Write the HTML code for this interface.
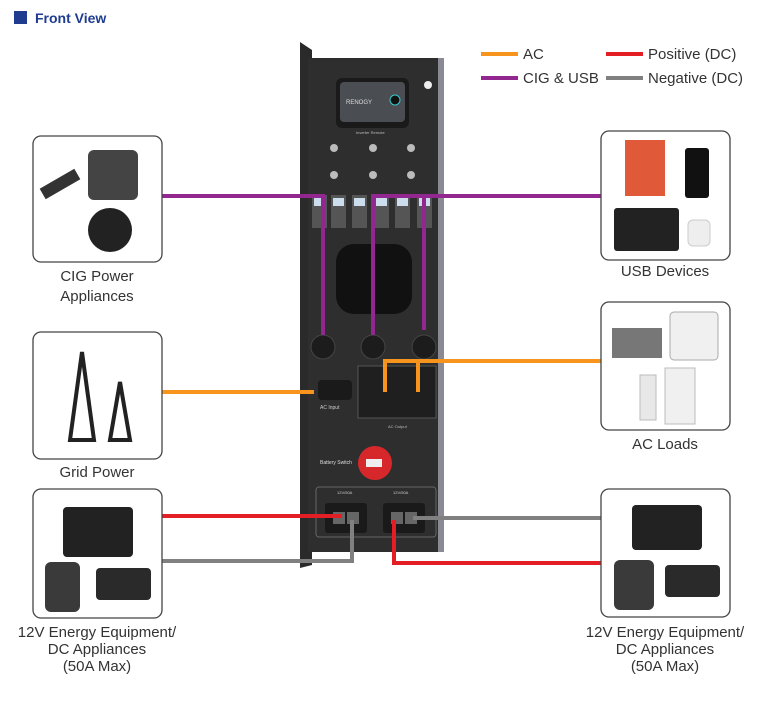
<!DOCTYPE html>
<html><head><meta charset="utf-8"><style>
body{margin:0;background:#fff;width:772px;height:702px;overflow:hidden;font-family:"Liberation Sans",sans-serif}
</style></head><body>
<svg width="772" height="702" viewBox="0 0 772 702" xmlns="http://www.w3.org/2000/svg" font-family="Liberation Sans, sans-serif">
<rect x="14" y="11" width="13" height="13" fill="#1f3c8f"/>
<text x="35" y="23" font-size="14" font-weight="bold" fill="#1f3c8f">Front View</text>

<g font-size="15" fill="#333">
<line x1="481" y1="54" x2="518" y2="54" stroke="#f7941d" stroke-width="4"/><text x="523" y="59">AC</text>
<line x1="606" y1="54" x2="643" y2="54" stroke="#e31e24" stroke-width="4"/><text x="648" y="59">Positive (DC)</text>
<line x1="481" y1="78" x2="518" y2="78" stroke="#92278f" stroke-width="4"/><text x="523" y="83">CIG &amp; USB</text>
<line x1="606" y1="78" x2="643" y2="78" stroke="#808080" stroke-width="4"/><text x="648" y="83">Negative (DC)</text>
</g>

<polygon points="300,42 312,50 312,565 300,568" fill="#2a2a2a"/>
<rect x="308" y="58" width="135" height="494" rx="3" fill="#2e2e2e"/>
<rect x="438" y="58" width="6" height="494" fill="#8a8a95"/>
<rect x="336" y="78" width="73" height="50" rx="6" fill="#1a1a1a"/>
<rect x="340" y="82" width="65" height="40" rx="4" fill="#4a4d52"/>
<text x="346" y="104" font-size="6" fill="#ddd">RENOGY</text>
<circle cx="395" cy="100" r="5" fill="#111" stroke="#3cc" stroke-width="1"/>
<circle cx="428" cy="85" r="4" fill="#eee"/>
<text x="356" y="134" font-size="4" fill="#bbb">Inverter Remote</text>
<g fill="#bbb"><circle cx="334" cy="148" r="4"/><circle cx="373" cy="148" r="4"/><circle cx="411" cy="148" r="4"/><circle cx="334" cy="175" r="4"/><circle cx="373" cy="175" r="4"/><circle cx="411" cy="175" r="4"/></g>
<g fill="#555">
<rect x="312" y="195" width="15" height="33"/><rect x="331" y="195" width="15" height="33"/><rect x="352" y="195" width="15" height="33"/><rect x="374" y="195" width="15" height="33"/><rect x="395" y="195" width="15" height="33"/><rect x="417" y="195" width="15" height="33"/></g>
<g fill="#cde"><rect x="314" y="198" width="11" height="8"/><rect x="333" y="198" width="11" height="8"/><rect x="354" y="198" width="11" height="8"/><rect x="376" y="198" width="11" height="8"/><rect x="397" y="198" width="11" height="8"/><rect x="419" y="198" width="11" height="8"/></g>
<rect x="336" y="244" width="76" height="70" rx="18" fill="#111"/>
<g fill="#1c1c1c" stroke="#444"><circle cx="323" cy="347" r="12"/><circle cx="373" cy="347" r="12"/><circle cx="424" cy="347" r="12"/></g>
<rect x="318" y="380" width="34" height="20" rx="4" fill="#1a1a1a"/>
<text x="320" y="409" font-size="5" fill="#ccc">AC Input</text>
<rect x="358" y="366" width="78" height="52" fill="#1f1f1f" stroke="#555"/>
<text x="388" y="428" font-size="4" fill="#bbb">AC Output</text>
<text x="320" y="464" font-size="5" fill="#ddd">Battery Switch</text>
<circle cx="375" cy="463" r="17" fill="#d6282b"/>
<rect x="366" y="459" width="16" height="8" fill="#eee"/>
<rect x="316" y="487" width="120" height="50" rx="3" fill="none" stroke="#666"/>
<rect x="325" y="503" width="42" height="30" rx="3" fill="#1a1a1a"/>
<rect x="383" y="503" width="42" height="30" rx="3" fill="#1a1a1a"/>
<g fill="#666"><rect x="333" y="512" width="12" height="12"/><rect x="347" y="512" width="12" height="12"/><rect x="391" y="512" width="12" height="12"/><rect x="405" y="512" width="12" height="12"/></g>
<text x="337" y="494" font-size="4" fill="#ccc">12V/50A</text><text x="393" y="494" font-size="4" fill="#ccc">12V/50A</text>

<g fill="none" stroke-width="4">
<path d="M162 196H323V335M373 335V196H601M424 196V330" stroke="#92278f"/>
<path d="M162 392H314M601 361H385V392M418 361V392" stroke="#f7941d"/>
<path d="M162 516H342M394 520V563H601" stroke="#e31e24"/>
<path d="M162 561H352V520M413 518H601" stroke="#808080"/>
</g>

<g fill="#fff" stroke="#444" stroke-width="1.3">
<rect x="33" y="136" width="129" height="126" rx="8"/>
<rect x="33" y="332" width="129" height="127" rx="8"/>
<rect x="33" y="489" width="129" height="129" rx="8"/>
<rect x="601" y="131" width="129" height="129" rx="8"/>
<rect x="601" y="302" width="129" height="128" rx="8"/>
<rect x="601" y="489" width="129" height="128" rx="8"/>
</g>
<g fill="#333">
<rect x="88" y="150" width="50" height="50" rx="6" fill="#444"/><circle cx="110" cy="230" r="22" fill="#222"/><rect x="40" y="178" width="40" height="12" transform="rotate(-30 60 184)"/>
<path d="M70 440 L82 352 L94 440Z M110 440 L120 382 L130 440Z" fill="none" stroke="#222" stroke-width="4"/>
<rect x="63" y="507" width="70" height="50" rx="4" fill="#222"/><rect x="45" y="562" width="35" height="50" rx="6" fill="#3a3a3a"/><rect x="96" y="568" width="55" height="32" rx="4" fill="#2a2a2a"/>
<rect x="625" y="140" width="40" height="56" fill="#e05a3a"/><rect x="685" y="148" width="24" height="50" rx="3" fill="#111"/><rect x="614" y="208" width="65" height="43" rx="3" fill="#222"/><rect x="688" y="220" width="22" height="26" rx="5" fill="#eee" stroke="#ccc"/>
<rect x="612" y="328" width="50" height="30" fill="#777"/><rect x="670" y="312" width="48" height="48" rx="4" fill="#f0f0f0" stroke="#aaa"/><rect x="665" y="368" width="30" height="56" fill="#f0f0f0" stroke="#bbb"/><rect x="640" y="375" width="16" height="45" fill="#e8e8e8" stroke="#bbb"/>
<rect x="632" y="505" width="70" height="45" rx="4" fill="#222"/><rect x="614" y="560" width="40" height="50" rx="6" fill="#3a3a3a"/><rect x="665" y="565" width="55" height="32" rx="4" fill="#2a2a2a"/>
</g>

<g font-size="15" fill="#333" text-anchor="middle">
<text x="97" y="281">CIG Power</text><text x="97" y="301">Appliances</text>
<text x="97" y="477">Grid Power</text>
<text x="97" y="637">12V Energy Equipment/</text><text x="97" y="654">DC Appliances</text><text x="97" y="671">(50A Max)</text>
<text x="665" y="276">USB Devices</text>
<text x="665" y="449">AC Loads</text>
<text x="665" y="637">12V Energy Equipment/</text><text x="665" y="654">DC Appliances</text><text x="665" y="671">(50A Max)</text>
</g>
</svg>
</body></html>
